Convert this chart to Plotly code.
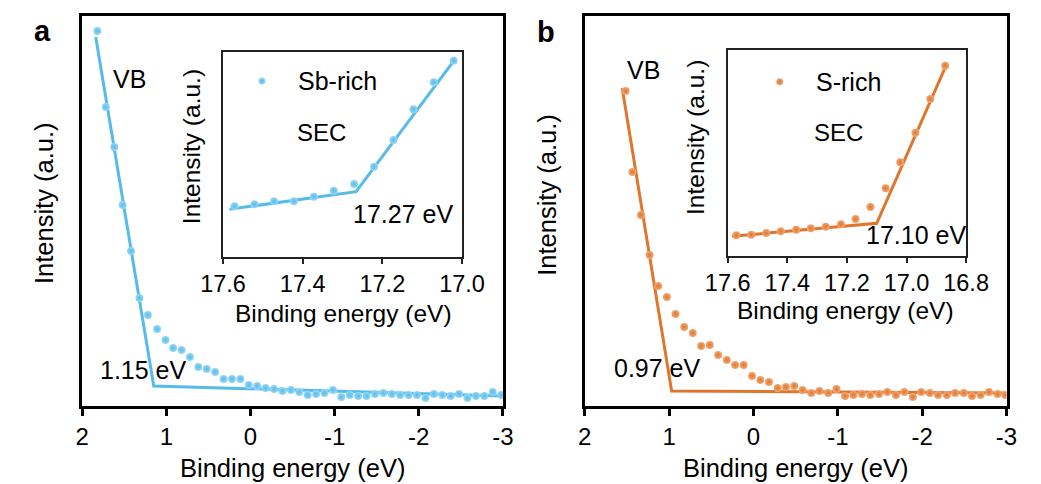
import plotly.graph_objects as go

# ---------------- data ----------------
# Panel a (Sb-rich) valence band
a_vb_x = [1.82, 1.72, 1.62, 1.52, 1.42, 1.32, 1.22, 1.11, 1.01, 0.92, 0.82, 0.72, 0.62, 0.52, 0.42,
          0.32, 0.22, 0.12, 0.02, -0.08, -0.18, -0.28, -0.38, -0.48, -0.58, -0.68, -0.78, -0.88,
          -0.98, -1.08, -1.18, -1.28, -1.38, -1.48, -1.58, -1.68, -1.78, -1.88, -1.98, -2.08,
          -2.18, -2.28, -2.38, -2.48, -2.58, -2.68, -2.78, -2.88, -2.98]
a_vb_y = [375, 299, 259, 201, 155, 108, 91, 77, 66, 58, 56, 49, 39, 37, 34,
          27, 27, 27, 21, 20, 18, 17, 15, 16, 14, 11, 12, 13,
          16, 9, 11, 10, 10, 12, 13, 12, 11, 11, 11, 8,
          12, 11, 10, 12, 8, 10, 10, 14, 11]
a_vb_fit_x = [1.84, 1.15, -3.0]
a_vb_fit_y = [369, 20, 10]

# Panel a inset (SEC)
a_sec_x = [17.571, 17.521, 17.472, 17.422, 17.372, 17.322, 17.271, 17.221, 17.172, 17.122, 17.071, 17.021]
a_sec_y = [51, 53, 56, 56, 60.6, 66.6, 73.3, 90.6, 117.3, 148, 175, 196.6]
a_sec_fit_x = [17.584, 17.266, 17.022]
a_sec_fit_y = [48, 65.6, 195.6]

# Panel b (S-rich) valence band
b_vb_x = [1.515, 1.435, 1.333, 1.231, 1.129, 1.026, 0.924, 0.821, 0.719, 0.620, 0.518, 0.419,
          0.316, 0.218, 0.116, 0.017, -0.082, -0.184, -0.287, -0.385, -0.484, -0.582, -0.685,
          -0.783, -0.886, -0.984, -1.086, -1.185, -1.287, -1.386, -1.488, -1.587, -1.689,
          -1.788, -1.890, -1.988, -2.091, -2.189, -2.292, -2.390, -2.493, -2.591, -2.693,
          -2.792, -2.894, -2.985]
b_vb_y = [315, 234, 191, 151, 120, 109, 92, 79, 73, 60, 61, 51,
          46, 41, 41, 30, 26, 24, 18, 19, 20, 16, 13,
          15, 13, 17, 10, 11, 12, 11, 12, 14, 11,
          14, 9, 14, 13, 11, 11, 13, 13, 10, 11,
          14, 12, 11]
b_vb_fit_x = [1.556, 0.97, -3.0]
b_vb_fit_y = [318, 15, 13]

# Panel b inset (SEC)
b_sec_x = [17.571, 17.521, 17.471, 17.422, 17.370, 17.321, 17.271, 17.220, 17.171, 17.121,
           17.070, 17.021, 16.970, 16.920, 16.870]
b_sec_y = [20.7, 21.3, 23, 24.7, 26.3, 27.7, 29.3, 31.7, 37, 49, 67.7, 93.7, 123.3, 157, 190.3]
b_sec_fit_x = [17.586, 17.10, 16.864]
b_sec_fit_y = [19.7, 32.7, 192.7]

main_tickvals = [2, 1, 0, -1, -2, -3]
main_ticktext = ["2", "1", "0", "-1", "-2", "-3"]
a_inset_tickvals = [17.6, 17.4, 17.2, 17.0]
a_inset_ticktext = ["17.6", "17.4", "17.2", "17.0"]
b_inset_tickvals = [17.6, 17.4, 17.2, 17.0, 16.8]
b_inset_ticktext = ["17.6", "17.4", "17.2", "17.0", "16.8"]

BLUE = "#55bbea"
BLUE_HI = "#9ad8f6"
ORANGE = "#e0762c"
ORANGE_HI = "#f2a877"
FONT = "Arial, 'Liberation Sans', Helvetica, sans-serif"

W, H = 1041, 484


def px_x(p):
    return p / W


def px_y(p):
    return 1 - p / H


fig = go.Figure()


def add_pair(xs, ys, fx, fy, color, hi, xa, ya, name=None, msize=8):
    fig.add_trace(go.Scatter(x=fx, y=fy, mode="lines", line=dict(color=color, width=3),
                             xaxis=xa, yaxis=ya, showlegend=False, hoverinfo="skip"))
    fig.add_trace(go.Scatter(x=xs, y=ys, mode="markers",
                             marker=dict(color=hi, size=msize,
                                         gradient=dict(type="radial", color=color),
                                         line=dict(width=0)),
                             xaxis=xa, yaxis=ya, showlegend=False, name=name))


add_pair(a_vb_x, a_vb_y, a_vb_fit_x, a_vb_fit_y, BLUE, BLUE_HI, "x", "y")
add_pair(a_sec_x, a_sec_y, a_sec_fit_x, a_sec_fit_y, BLUE, BLUE_HI, "x2", "y2", "Sb-rich")
add_pair(b_vb_x, b_vb_y, b_vb_fit_x, b_vb_fit_y, ORANGE, ORANGE_HI, "x3", "y3")
add_pair(b_sec_x, b_sec_y, b_sec_fit_x, b_sec_fit_y, ORANGE, ORANGE_HI, "x4", "y4", "S-rich")

# legend markers in insets
fig.add_trace(go.Scatter(x=[px_x(250)], y=[px_y(81)], mode="markers",
                         marker=dict(color=BLUE_HI, size=7, gradient=dict(type="radial", color=BLUE)),
                         xaxis="x5", yaxis="y5", showlegend=False, hoverinfo="skip"))
fig.add_trace(go.Scatter(x=[px_x(791.7)], y=[px_y(81.7)], mode="markers",
                         marker=dict(color=ORANGE_HI, size=7, gradient=dict(type="radial", color=ORANGE)),
                         xaxis="x5", yaxis="y5", showlegend=False, hoverinfo="skip"))

main_x = dict(range=[2, -3], tickvals=main_tickvals, ticktext=main_ticktext,
              showline=True, linecolor="black", linewidth=3, mirror=True,
              ticks="outside", ticklen=7, tickwidth=3, tickcolor="black",
              tickfont=dict(family=FONT, size=24, color="black"),
              showgrid=False, zeroline=False)
main_y = dict(range=[0, 390], showticklabels=False, ticks="",
              showline=True, linecolor="black", linewidth=3, mirror=True,
              showgrid=False, zeroline=False)
inset_x = dict(showline=True, linecolor="#222222", linewidth=1.5, mirror=True,
               ticks="outside", ticklen=5, tickwidth=1.5, tickcolor="#222222",
               tickfont=dict(family=FONT, size=23.5, color="black"),
               showgrid=False, zeroline=False)
inset_y = dict(showticklabels=False, ticks="",
               showline=True, linecolor="#222222", linewidth=1.5, mirror=True,
               showgrid=False, zeroline=False)

fig.update_layout(
    width=W, height=H, margin=dict(l=0, r=0, t=0, b=0),
    paper_bgcolor="white", plot_bgcolor="rgba(0,0,0,0)",
    showlegend=False,
    font=dict(family=FONT, color="black"),
    xaxis=dict(domain=[px_x(62), px_x(502)], anchor="y", **main_x),
    yaxis=dict(domain=[px_y(406), px_y(16)], anchor="x", **main_y),
    xaxis2=dict(domain=[px_x(209.3), px_x(459.3)], anchor="y2", range=[17.6, 17.0],
                tickvals=a_inset_tickvals, ticktext=a_inset_ticktext, **inset_x),
    yaxis2=dict(domain=[px_y(257.3), px_y(52.3)], anchor="x2", range=[0, 205], **inset_y),
    xaxis3=dict(domain=[px_x(587.7), px_x(1029)], anchor="y3", **main_x),
    yaxis3=dict(domain=[px_y(406), px_y(16)], anchor="x3", **main_y),
    xaxis4=dict(domain=[px_x(737.3), px_x(986.7)], anchor="y4", range=[17.6, 16.8],
                tickvals=b_inset_tickvals, ticktext=b_inset_ticktext, **inset_x),
    yaxis4=dict(domain=[px_y(256), px_y(50)], anchor="x4", range=[0, 206], **inset_y),
    xaxis5=dict(domain=[0, 1], range=[0, 1], visible=False, anchor="y5"),
    yaxis5=dict(domain=[0, 1], range=[0, 1], visible=False, anchor="x5"),
)


def ann(text, x, y, size=25, angle=0, bold=False, xanchor="center", yanchor="middle"):
    fig.add_annotation(text=f"<b>{text}</b>" if bold else text,
                       x=px_x(x), y=px_y(y), xref="paper", yref="paper",
                       showarrow=False, textangle=angle, xanchor=xanchor, yanchor=yanchor,
                       font=dict(family=FONT, size=size, color="black"))


# panel a texts
ann("a", 20, 31, size=29, bold=True)
ann("Intensity (a.u.)", 22, 203, size=25.5, angle=-90)
ann("Binding energy (eV)", 282, 484, size=25.5, yanchor="bottom")
ann("VB", 111, 79)
ann("1.15 eV", 126, 370)
ann("Sb-rich", 286, 81, xanchor="left")
ann("SEC", 312, 133, size=24)
ann("17.27 eV", 398, 214)
ann("Intensity (a.u.)", 177, 147, size=24.5, angle=-90)
ann("Binding energy (eV)", 335, 313, size=24.5)

# panel b texts
ann("b", 547, 32, size=29, bold=True)
ann("Intensity (a.u.)", 548, 195, size=25.5, angle=-90)
ann("Binding energy (eV)", 808, 484, size=25.5, yanchor="bottom")
ann("VB", 649, 70)
ann("0.97 eV", 664, 368)
ann("S-rich", 828, 82, xanchor="left")
ann("SEC", 853, 133, size=24)
ann("17.10 eV", 934, 235)
ann("Intensity (a.u.)", 703, 137, size=24.5, angle=-90)
ann("Binding energy (eV)", 861, 310, size=24.5)

fig.write_html("out.html", config={"displayModeBar": False},
               post_script="document.body.style.margin='0';document.body.style.overflow='hidden';")
